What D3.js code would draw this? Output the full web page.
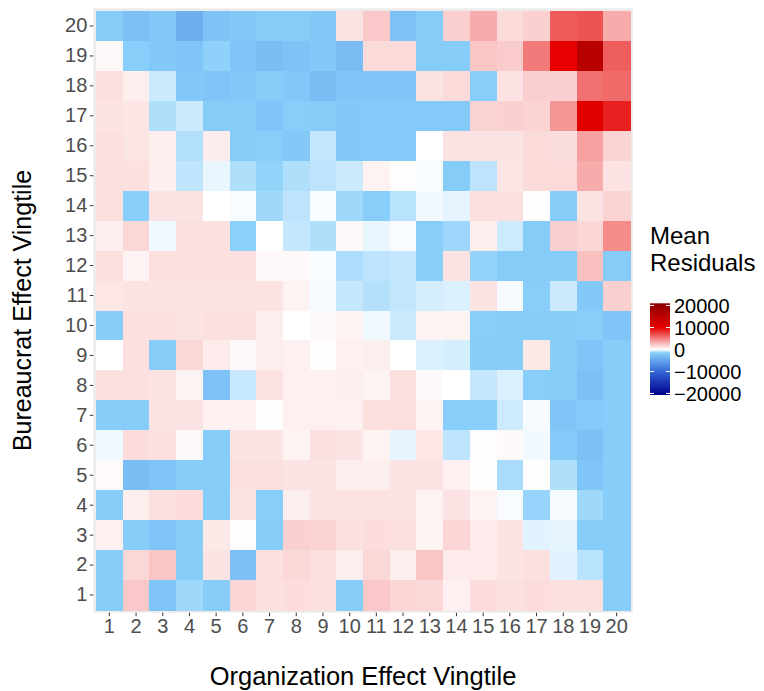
<!DOCTYPE html>
<html>
<head>
<meta charset="utf-8">
<script src="https://cdn.jsdelivr.net/npm/d3@7/dist/d3.min.js"></script>
<style>
  body { margin: 0; background: #fff; }
  svg { display: block; }
  text { font-family: "Liberation Sans", Arial, Helvetica, sans-serif; }
</style>
</head>
<body>
<svg id="chart" width="764" height="691"></svg>
<script>
// Column categories (organization effect vingtiles)
const orgVingtiles = [1, 2, 3, 4, 5, 6, 7, 8, 9, 10, 11, 12, 13, 14, 15, 16, 17, 18, 19, 20];
// Row categories (bureaucrat effect vingtiles), listed top row first
const bureauVingtiles = [20, 19, 18, 17, 16, 15, 14, 13, 12, 11, 10, 9, 8, 7, 6, 5, 4, 3, 2, 1];

// Mean residuals; one array per bureaucrat vingtile (same order as bureauVingtiles),
// each holding the values for organization vingtiles 1..20
const meanResiduals = [
  [-1750, -2700, -2100, -4200, -2500, -2000, -1800, -1800, -2000, 1100, 2160, -2600, -1800, 1880, 3300, 1450, 1850, 6430, 6750, 3300],
  [270, -1600, -2100, -2300, -1500, -2300, -3000, -2500, -2100, -3000, 1450, 1450, -1750, -1750, 2270, 2040, 5200, 10000, 15500, 6300],
  [1250, 650, -680, -2100, -2300, -2100, -1800, -2200, -3000, -2300, -2300, -2300, 1100, 1450, -1600, 1150, 1880, 1840, 5600, 5850],
  [1100, 1020, -1050, -700, -1750, -1750, -2300, -1600, -1750, -2000, -1900, -1900, -1900, -1900, 1730, 1840, 1730, 4100, 10600, 8750],
  [1250, 1020, 670, -1030, 750, -1750, -1600, -2000, -800, -2000, -1900, -1900, 0, 1150, 1100, 1100, 1450, 1350, 3730, 1730],
  [1250, 1250, 640, -850, -300, -1050, -1450, -1050, -880, -670, 470, 120, -100, -1750, -880, 1020, 1450, 1450, 3250, 1150],
  [1250, -1600, 1100, 1100, 0, -80, -1270, -880, -80, -1270, -1600, -930, -200, -350, 1220, 1220, 20, -1750, 1100, 1730],
  [640, 1530, -200, 1220, 1220, -1550, 0, -770, -1050, 240, -300, -100, -1600, -1300, 670, -650, -1750, 1880, 1600, 4500],
  [1250, 470, 1220, 1220, 1220, 1220, 270, 270, -80, -1080, -880, -770, -1600, 1100, -1450, -1750, -1750, -1750, 2470, -1750],
  [980, 1100, 1100, 1100, 1100, 1100, 1100, 470, -130, -770, -1000, -820, -560, -470, 1100, -130, -1600, -690, -2000, 1880],
  [-1700, 1250, 1220, 1100, 1220, 1220, 670, 0, 240, 470, -200, -680, 470, 470, -1600, -1700, -1700, -1700, -1600, -2300],
  [0, 1250, -1700, 1530, 820, 250, 670, 590, 80, 590, 650, 0, -470, -560, -1700, -1700, 900, -1700, -2300, -1700],
  [1220, 1250, 1100, 470, -2600, -740, 1100, 590, 590, 670, 470, 1220, 240, 0, -770, -470, -1600, -1800, -2700, -1700],
  [-1700, -1700, 1100, 1100, 590, 590, 20, 590, 590, 590, 1220, 1220, 470, -1600, -1600, -650, -130, -2300, -1900, -1700],
  [-200, 1370, 1220, 250, -1700, 1100, 1100, 470, 1220, 1100, 470, -350, 980, -880, 60, 250, -160, -1900, -2700, -1700],
  [180, -2900, -2300, -1700, -1700, 1220, 1220, 1100, 1100, 670, 670, 1100, 1100, 590, 60, -1150, 40, -1050, -2300, -1700],
  [-1700, 670, 1220, 1370, -1700, 1100, -1600, 670, 1100, 1100, 1100, 1100, 470, 1100, 470, -100, -1400, -130, -1270, -1700],
  [590, -1700, -2300, -1700, 900, 120, -1700, 1840, 1730, 1220, 1370, 1220, 470, 1600, 820, 1100, -400, -350, -1700, -1700],
  [-1700, 1530, 2270, -1700, 1100, -2700, 1250, 1530, 1220, 670, 1530, 670, 2270, 820, 820, 1100, 1250, -400, -930, -1700],
  [-1700, 2160, -2300, -1270, -1700, 1600, 1250, 1370, 1220, -1700, 2160, 1600, 1530, 590, 1370, 1250, 1370, 1250, 1250, -1700]
];

// Colour bar breaks and limits
const legendBreaks = [20000, 10000, 0, -10000, -20000];
const legendLimits = [-20700, 21000];

// Colour ramp anchors
const colorStops = [-20700, -10000, -1600, 0, 10000, 21000];
const colorValues = ["#00008B", "#3366D6", "#87CEFA", "#FFFFFF", "#E60000", "#8B0000"];

const svg = d3.select("#chart");

const panel = { left: 93.3, top: 8.3, right: 632.7, bottom: 612.7 };
const cells = { left: 96, top: 11, right: 630, bottom: 610 };

const x = d3.scaleBand().domain(orgVingtiles).range([cells.left, cells.right]).padding(0);
const y = d3.scaleBand()
  .domain(bureauVingtiles.slice().sort((a, b) => a - b))
  .range([cells.bottom, cells.top]).padding(0);

const color = d3.scaleLinear().domain(colorStops).range(colorValues).clamp(true);

// panel background
svg.append("rect")
  .attr("x", panel.left).attr("y", panel.top)
  .attr("width", panel.right - panel.left).attr("height", panel.bottom - panel.top)
  .attr("fill", "#EBEBEB");

// heatmap tiles
const tiles = [];
bureauVingtiles.forEach((b, i) => {
  orgVingtiles.forEach((o, j) => tiles.push({ org: o, bureau: b, value: meanResiduals[i][j] }));
});

svg.append("g").attr("shape-rendering", "crispEdges")
  .selectAll("rect").data(tiles).join("rect")
  .attr("x", d => x(d.org))
  .attr("y", d => y(d.bureau))
  .attr("width", x.bandwidth() + 0.5)
  .attr("height", y.bandwidth() + 0.5)
  .attr("fill", d => color(d.value));

// axes
const xAxis = svg.append("g")
  .attr("transform", `translate(0,${panel.bottom})`)
  .call(d3.axisBottom(x).tickSize(3.5).tickPadding(2.6));
const yAxis = svg.append("g")
  .attr("transform", `translate(${panel.left},0)`)
  .call(d3.axisLeft(y).tickSize(3.5).tickPadding(2.5));

[xAxis, yAxis].forEach(g => {
  g.select(".domain").remove();
  g.selectAll(".tick line").attr("stroke", "#333333").attr("stroke-width", 1);
  g.selectAll(".tick text")
    .attr("fill", "#4D4D4D")
    .style("font-size", "20px")
    .style("font-family", '"Liberation Sans", Arial, sans-serif');
});

// axis titles
svg.append("text")
  .attr("x", (cells.left + cells.right) / 2).attr("y", 685)
  .attr("text-anchor", "middle")
  .style("font-size", "25.5px").attr("fill", "#000")
  .text("Organization Effect Vingtile");

svg.append("text")
  .attr("transform", `translate(31,${(cells.top + cells.bottom) / 2}) rotate(-90)`)
  .attr("text-anchor", "middle")
  .style("font-size", "25px").attr("fill", "#000")
  .text("Bureaucrat Effect Vingtile");

// legend
const legend = { x: 650, w: 20 };
const ly = d3.scaleLinear().domain(legendLimits).range([395, 303.3]);

svg.append("text").attr("x", legend.x).attr("y", 244)
  .style("font-size", "24px").attr("fill", "#000").text("Mean");
svg.append("text").attr("x", legend.x).attr("y", 271)
  .style("font-size", "24px").attr("fill", "#000").text("Residuals");

const grad = svg.append("defs").append("linearGradient")
  .attr("id", "resid-grad")
  .attr("x1", 0).attr("y1", 0).attr("x2", 0).attr("y2", 1);
const nStops = 120;
for (let k = 0; k <= nStops; k++) {
  const v = legendLimits[1] - (legendLimits[1] - legendLimits[0]) * k / nStops;
  grad.append("stop").attr("offset", k / nStops).attr("stop-color", color(v));
}

svg.append("rect")
  .attr("x", legend.x).attr("y", ly(legendLimits[1]))
  .attr("width", legend.w).attr("height", ly(legendLimits[0]) - ly(legendLimits[1]))
  .attr("fill", "url(#resid-grad)");

const lt = svg.append("g");
legendBreaks.forEach(b => {
  const yy = ly(b);
  lt.append("line").attr("x1", legend.x).attr("x2", legend.x + 4)
    .attr("y1", yy).attr("y2", yy).attr("stroke", "#fff").attr("stroke-width", 1);
  lt.append("line").attr("x1", legend.x + legend.w - 4).attr("x2", legend.x + legend.w)
    .attr("y1", yy).attr("y2", yy).attr("stroke", "#fff").attr("stroke-width", 1);
  lt.append("text").attr("x", legend.x + legend.w + 4).attr("y", yy)
    .attr("dy", "0.36em")
    .style("font-size", "20px").attr("fill", "#000")
    .text(b < 0 ? "\u2212" + Math.abs(b) : String(b));
});
</script>
</body>
</html>
